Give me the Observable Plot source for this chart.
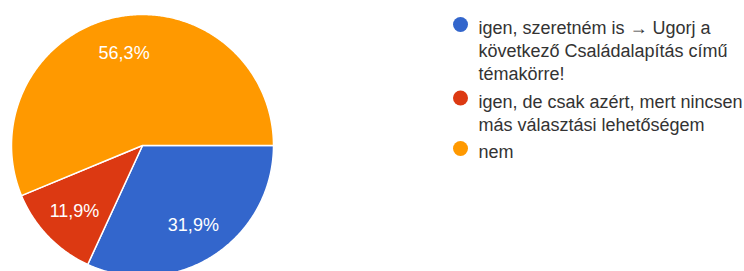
<!DOCTYPE html>
<html><head><meta charset="utf-8">
<script src="https://cdn.jsdelivr.net/npm/d3@7"></script>
<script src="https://cdn.jsdelivr.net/npm/@observablehq/plot@0.6"></script>
<style>body{margin:0;background:#fff} svg{display:block}</style>
</head><body><div id="chart"></div>
<script>
// ---- data ----
const categories = [
  "igen, szeretném is → Ugorj a következő Családalapítás című témakörre!",
  "igen, de csak azért, mert nincsen más választási lehetőségem",
  "nem"
];
const legendLines = [
  ["igen, szeretném is → Ugorj a", "következő Családalapítás című", "témakörre!"],
  ["igen, de csak azért, mert nincsen", "más választási lehetőségem"],
  ["nem"]
];
const values = [31.9, 11.9, 56.3];
const sliceLabels = ["31,9%", "11,9%", "56,3%"];
const colors = ["#3366cc", "#dc3912", "#ff9900"];

// ---- layout ----
const W = 744, H = 271;
const cx = 142, cy = 145, R = 131;
const font = "'Liberation Sans', Arial, sans-serif";

const arcs = d3.pie().sort(null).startAngle(Math.PI / 2).endAngle(Math.PI / 2 + 2 * Math.PI)(values);
const pt = (a, r) => ({x: cx + r * Math.sin(a), y: cy - r * Math.cos(a)});

const slicePts = [];
arcs.forEach((a, i) => {
  const k = categories[i];
  slicePts.push({...pt(0, 0), k});
  const n = Math.max(2, Math.ceil((a.endAngle - a.startAngle) / (Math.PI / 360)));
  for (let j = 0; j <= n; j++) {
    const t = a.startAngle + (a.endAngle - a.startAngle) * j / n;
    slicePts.push({...pt(t, R), k});
  }
  slicePts.push({...pt(0, 0), k});
});

const labelPts = arcs.map((a, i) => ({...pt((a.startAngle + a.endAngle) / 2, R * 0.72), label: sliceLabels[i]}));

const lineH = 23, itemGap = 4.5;
let yy = 24;
const legend = categories.map((k, i) => {
  const item = {k, y: yy, text: legendLines[i].join("\n")};
  yy += legendLines[i].length * lineH + itemGap;
  return item;
});

const chart = Plot.plot({
  width: W, height: H, margin: 0,
  style: {fontFamily: font, background: "#fff"},
  x: {domain: [0, W], range: [0, W], axis: null},
  y: {domain: [0, H], range: [0, H], axis: null},
  color: {domain: categories, range: colors},
  marks: [
    Plot.line(slicePts, {x: "x", y: "y", z: "k", fill: "k", stroke: "white", strokeWidth: 1.5, curve: "linear"}),
    Plot.text(labelPts, {x: "x", y: "y", text: "label", fill: "white", fontSize: 18}),
    Plot.dot(legend, {x: () => 460, y: "y", r: 7.5, fill: "k", stroke: null}),
    Plot.text(legend, {x: () => 478, y: d => d.y - 6.5, text: "text", textAnchor: "start", lineAnchor: "top",
      lineHeight: lineH / 18, fontSize: 18, fill: "#333"})
  ]
});
document.getElementById("chart").append(chart);
</script>
</body></html>
